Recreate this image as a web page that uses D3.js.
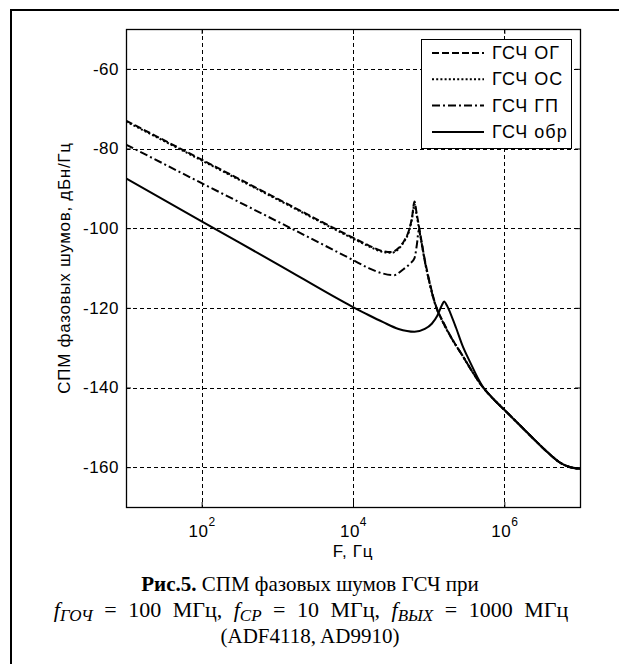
<!DOCTYPE html>
<html><head><meta charset="utf-8">
<script src="https://cdn.jsdelivr.net/npm/d3@7/dist/d3.min.js"></script>
<style>body{margin:0;background:#fff}svg{display:block}</style>
</head><body>
<svg id="c" width="619" height="664"></svg>
<script>
// ---------- data ----------
const seriesNames = ["ГСЧ ОГ", "ГСЧ ОС", "ГСЧ ГП", "ГСЧ обр"];

const freqOG = [10, 100, 1e3, 1e4, 1.6e4, 2.5e4, 3.2e4, 4.0e4, 4.8e4, 5.5e4, 6.0e4, 6.5e4, 6.9e4, 7.6e4, 8.9e4, 1.0e5, 1.2e5, 1.6e5, 2.0e5, 2.8e5, 4.0e5, 5.0e5, 7.1e5, 1e6, 1.8e6, 2.5e6, 3.8e6, 5.6e6, 7.1e6, 1e7];
const valOG  = [-73, -82.8, -92.6, -102.4, -104.3, -105.8, -106, -105, -103, -100.5, -97.5, -93.3, -96, -100.5, -108, -112.5, -118.5, -124, -127.5, -132, -136.8, -139.5, -142.8, -145.6, -150.4, -153.1, -156.4, -159, -159.9, -160.4];

const freqOS = [10, 100, 1e3, 1e4, 1.6e4, 2.5e4, 3.2e4, 4.0e4, 4.8e4, 5.5e4, 6.0e4, 6.5e4, 6.9e4, 7.6e4, 8.9e4, 1.0e5, 1.2e5, 1.6e5, 2.0e5, 2.8e5, 4.0e5, 5.0e5, 7.1e5, 1e6, 1.8e6, 2.5e6, 3.8e6, 5.6e6, 7.1e6, 1e7];
const valOS  = [-73.2, -83, -92.8, -102.6, -104.5, -106, -106.2, -105.2, -103.2, -100.8, -97.8, -94, -96.5, -101, -108.3, -112.8, -118.7, -124.2, -127.6, -132, -136.8, -139.5, -142.8, -145.6, -150.4, -153.1, -156.4, -159, -159.9, -160.4];

const freqGP = [10, 100, 1e3, 1e4, 1.6e4, 2.5e4, 3.5e4, 4.5e4, 5.6e4, 6.5e4, 7.0e4, 7.4e4, 7.9e4, 8.9e4, 1.0e5, 1.2e5, 1.6e5, 2.0e5, 2.8e5, 4.0e5, 5.0e5, 7.1e5, 1e6, 1.8e6, 2.5e6, 3.8e6, 5.6e6, 7.1e6, 1e7];
const valGP  = [-79, -88.7, -98.3, -108, -110, -111.4, -111.8, -110.5, -109, -107.5, -104, -100.5, -102.8, -108.3, -112.8, -118.7, -124.2, -127.6, -132, -136.8, -139.5, -142.8, -145.6, -150.4, -153.1, -156.4, -159, -159.9, -160.4];

const freqObr = [10, 100, 1e3, 1e4, 1.6e4, 2.5e4, 4.0e4, 6.5e4, 8.9e4, 1.1e5, 1.3e5, 1.5e5, 1.6e5, 1.75e5, 2.0e5, 2.3e5, 2.8e5, 3.5e5, 5.0e5, 7.1e5, 1e6, 1.8e6, 2.5e6, 3.8e6, 5.6e6, 7.1e6, 1e7];
const valObr  = [-87.5, -98.3, -109, -119.8, -121.8, -123.6, -125.3, -126, -125.3, -124, -122, -119.3, -118.4, -119.5, -122, -125, -129.5, -133.5, -139.3, -142.8, -145.6, -150.4, -153.1, -156.4, -159, -159.9, -160.4];

const yTicks = [-60, -80, -100, -120, -140, -160];
const xTicks = [1e2, 1e4, 1e6];
const yLabel = "СПМ фазовых шумов, дБн/Гц";
const xLabel = "F, Гц";

// ---------- chart ----------
const svg = d3.select("#c");
const L = 126, R = 580, T = 29, B = 507;
const x = d3.scaleLog().domain([10, 1e7]).range([L, R]);
const y = d3.scaleLinear().domain([-170, -50]).range([B, T]);
const sans = "'Liberation Sans', Arial, Helvetica, sans-serif";
const serif = "'Liberation Serif', 'Times New Roman', serif";

svg.append("rect").attr("width", 619).attr("height", 664).attr("fill", "#fff");
// outer frame
svg.append("rect").attr("x", 11).attr("y", 10).attr("width", 700).attr("height", 700)
  .attr("fill", "none").attr("stroke", "#000").attr("stroke-width", 2);

// grid
const grid = svg.append("g").attr("stroke", "#000").attr("stroke-width", 1).attr("stroke-dasharray", "4,3");
grid.selectAll("line.h").data(yTicks).join("line")
  .attr("x1", L).attr("x2", R).attr("y1", d => Math.round(y(d)) + 0.5).attr("y2", d => Math.round(y(d)) + 0.5);
grid.selectAll("line.v").data(xTicks).join("line")
  .attr("y1", T).attr("y2", B).attr("x1", d => Math.round(x(d)) + 0.5).attr("x2", d => Math.round(x(d)) + 0.5);

// axes
const gy = svg.append("g").attr("transform", `translate(${L},0)`)
  .call(d3.axisLeft(y).tickValues(yTicks).tickSize(-5).tickPadding(7).tickFormat(d => d));
const gx = svg.append("g").attr("transform", `translate(0,${B})`)
  .call(d3.axisBottom(x).tickValues(xTicks).tickSize(-5).tickPadding(12).tickFormat(() => ""));
svg.append("g").attr("transform", `translate(${R},0)`)
  .call(d3.axisRight(y).tickValues(yTicks).tickSize(-5).tickFormat(() => ""));
svg.append("g").attr("transform", `translate(0,${T})`)
  .call(d3.axisTop(x).tickValues(xTicks).tickSize(-5).tickFormat(() => ""));
svg.selectAll(".domain").remove();
svg.selectAll(".tick line").attr("stroke", "#000");
svg.selectAll(".tick text").attr("font-family", sans).attr("font-size", 17).attr("fill", "#000")
  .attr("letter-spacing", 0.5);

gx.selectAll(".tick text").each(function(d) {
  const t = d3.select(this).attr("dy", null).attr("y", 30);
  t.append("tspan").text("10");
  t.append("tspan").attr("dy", -11).attr("font-size", 12).text(Math.round(Math.log10(d)));
});

// box
svg.append("rect").attr("x", L + 0.5).attr("y", T + 0.5).attr("width", R - L).attr("height", B - T)
  .attr("fill", "none").attr("stroke", "#000").attr("stroke-width", 1.3);

// curves
const styles = ["7,3", "2,2.2", "8,3,2,3", null];
const series = [
  { f: freqOG, v: valOG },
  { f: freqOS, v: valOS },
  { f: freqGP, v: valGP },
  { f: freqObr, v: valObr }
];
svg.append("clipPath").attr("id", "clip").append("rect")
  .attr("x", L).attr("y", T).attr("width", R - L).attr("height", B - T);
const line = d3.line().x(d => x(d[0])).y(d => y(d[1])).curve(d3.curveMonotoneX);
const cg = svg.append("g").attr("clip-path", "url(#clip)");
series.forEach((s, i) => {
  cg.append("path").datum(s.f.map((f, k) => [f, s.v[k]]))
    .attr("d", line).attr("fill", "none").attr("stroke", "#000").attr("stroke-width", 2)
    .attr("stroke-dasharray", styles[i]);
});

// legend
const lg = svg.append("g");
lg.append("rect").attr("x", 421.5).attr("y", 39.5).attr("width", 150).attr("height", 109)
  .attr("fill", "#fff").attr("stroke", "#000").attr("stroke-width", 1);
seriesNames.forEach((n, i) => {
  const yy = 53 + i * 26.3;
  lg.append("line").attr("x1", 432).attr("x2", 484).attr("y1", yy).attr("y2", yy)
    .attr("stroke", "#000").attr("stroke-width", 2).attr("stroke-dasharray", styles[i]);
  lg.append("text").attr("x", 492).attr("y", yy + 6).attr("font-family", sans).attr("font-size", 18)
    .attr("letter-spacing", 1).text(n);
});

// axis labels
svg.append("text").attr("transform", `translate(70,${(T + B) / 2}) rotate(-90)`)
  .attr("text-anchor", "middle").attr("font-family", sans).attr("font-size", 17)
  .attr("letter-spacing", 0.7).text(yLabel);
svg.append("text").attr("x", (L + R) / 2).attr("y", 557).attr("text-anchor", "middle")
  .attr("font-family", sans).attr("font-size", 17).attr("letter-spacing", 0.7).text(xLabel);

// caption
const cap = svg.append("g").attr("font-family", serif).attr("font-size", 21).attr("text-anchor", "middle");
const c1 = cap.append("text").attr("x", 310).attr("y", 591);
c1.append("tspan").attr("font-weight", "bold").text("Рис.5.");
c1.append("tspan").text(" СПМ фазовых шумов ГСЧ при");
const c2 = cap.append("text").attr("x", 311).attr("y", 617).attr("font-size", 22).attr("word-spacing", 6);
const parts = [["f", "ГОЧ", " = 100 МГц, "], ["f", "CP", " = 10 МГц, "], ["f", "ВЫХ", " = 1000 МГц"]];
parts.forEach(p => {
  c2.append("tspan").attr("font-style", "italic").text(p[0]);
  c2.append("tspan").attr("font-style", "italic").attr("font-size", 17).attr("dy", 4).text(p[1]);
  c2.append("tspan").attr("dy", -4).text(p[2]);
});
cap.append("text").attr("x", 310).attr("y", 643).text("(ADF4118, AD9910)");
</script>
</body></html>
